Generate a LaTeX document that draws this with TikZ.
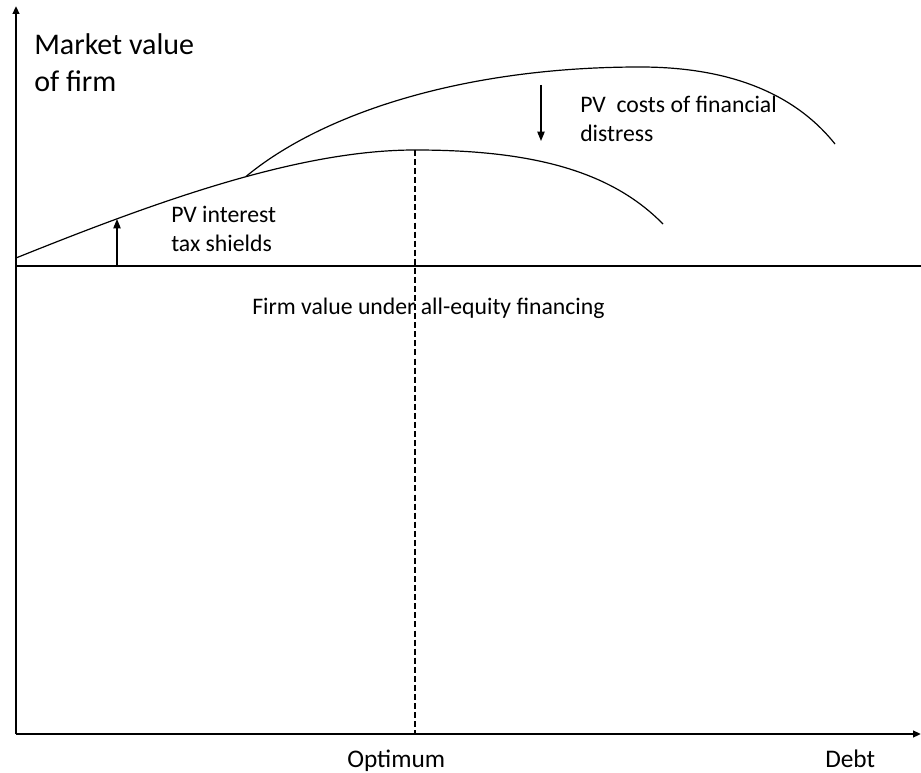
\documentclass[tikz,border=0pt]{standalone}
\usepackage{fontspec}
\setmainfont{Carlito}
\usetikzlibrary{arrows.meta}
\begin{document}
\begin{tikzpicture}[x=0.75pt,y=-0.75pt,
  axisline/.style={line width=1.5pt,-{Triangle[length=6pt,width=5pt]}},
  curveline/.style={line width=0.9pt},
  eqline/.style={line width=1.5pt},
  guideline/.style={line width=1.4pt,dash pattern=on 4.5pt off 2.3pt},
  deltaarrow/.style={line width=0.9pt,-{Triangle[length=7pt,width=5.5pt]}},
  lbl/.style={inner sep=0pt,anchor=base west,align=left,font=\fontsize{17.8pt}{21.75pt}\selectfont},
  biglbl/.style={inner sep=0pt,anchor=base west,align=left,font=\fontsize{22.5pt}{27.75pt}\selectfont},
  axlbl/.style={inner sep=0pt,anchor=base west,font=\fontsize{19pt}{23pt}\selectfont}]
\useasboundingbox (0,0) rectangle (921,773);
% coordinates
\coordinate (O) at (16,734);
\coordinate (Ytop) at (16,6);
\coordinate (Xend) at (921,734);
\coordinate (E0) at (16,266);
\coordinate (E1) at (921,266);
\coordinate (L0) at (16,258);
\coordinate (Lpeak) at (415,150);
\coordinate (Lend) at (663,224);
\coordinate (B) at (246,176.5);
\coordinate (Upeak) at (640,67);
\coordinate (Uend) at (835,144);
\coordinate (Dbot) at (415,734);
\coordinate (A1s) at (117,266);
\coordinate (A1e) at (117,219);
\coordinate (A2s) at (541,85);
\coordinate (A2e) at (541,141);
% axes
\draw[axisline] (O) -- (Ytop);
\draw[axisline] (O) -- (Xend);
% all-equity line
\draw[eqline] (E0) -- (E1);
% lower curve
\draw[curveline] (L0) .. controls (160,200) and (300,150) .. (Lpeak)
  .. controls (530,150) and (610,170) .. (Lend);
% upper curve
\draw[curveline] (B) .. controls (320,115) and (460,67) .. (Upeak)
  .. controls (740,67) and (800,100) .. (Uend);
% optimum dashed line
\draw[guideline] (Lpeak) -- (Dbot);
% arrows
\draw[deltaarrow] (A1s) -- (A1e);
\draw[deltaarrow] (A2s) -- (A2e);
% labels (base anchor = baseline of last line)
\node[biglbl] (mv) at (34,92) {Market value\\of firm};
\node[lbl] (pvi) at (171,252) {PV interest\\tax shields};
\node[lbl] (pvc) at (580,142) {PV\ \ costs of financial\\distress};
\node[lbl] (fv) at (252,315) {Firm value under all-equity financing};
\node[axlbl] (opt) at (347,767) {Optimum};
\node[axlbl] (debt) at (825,767) {Debt};
\end{tikzpicture}
\end{document}
